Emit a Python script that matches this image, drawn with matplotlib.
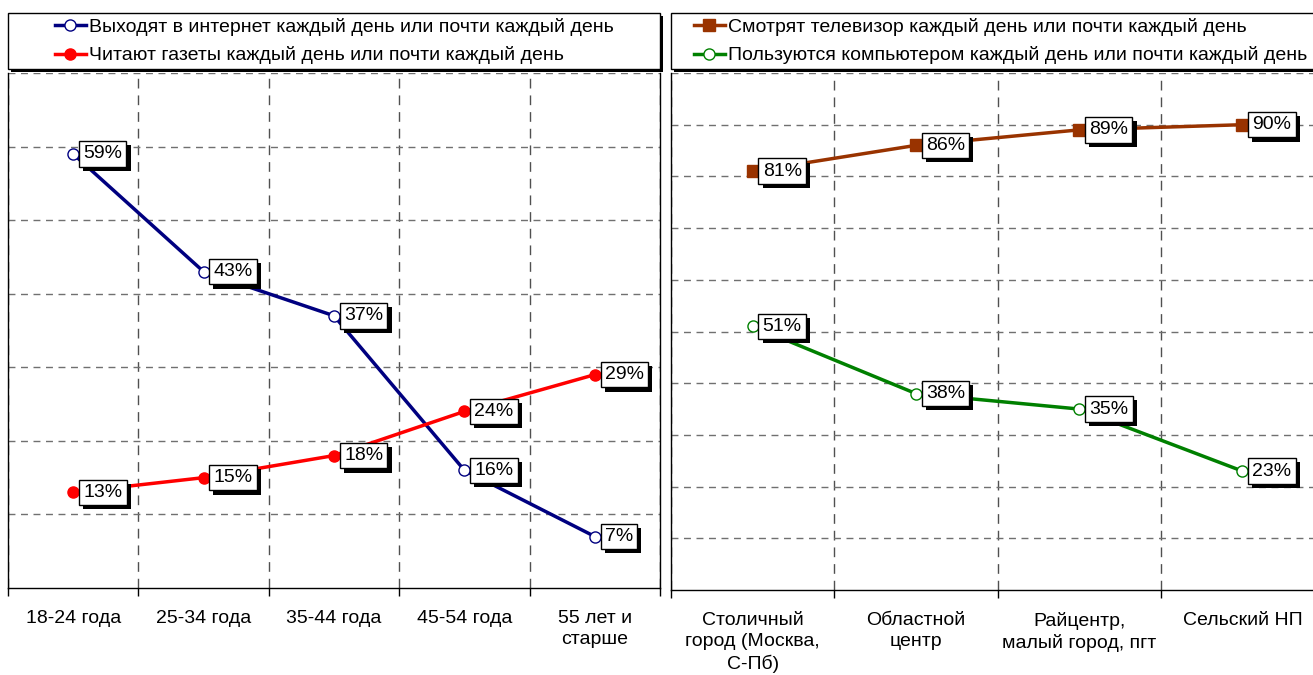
import matplotlib
matplotlib.use("Agg")
import matplotlib.pyplot as plt
import matplotlib.patheffects as pe
from matplotlib.patches import Rectangle

plt.rcParams['font.family'] = ['Liberation Sans', 'DejaVu Sans']

# age groups
age_groups = ["18-24 года", "25-34 года", "35-44 года", "45-54 года", "55 лет и\nстарше"]
internet = [59, 43, 37, 16, 7]
newspapers = [13, 15, 18, 24, 29]

# settlement types
places = ["Столичный\nгород (Москва,\nС-Пб)", "Областной\nцентр",
          "Райцентр,\nмалый город, пгт", "Сельский НП"]
tv = [81, 86, 89, 90]
computer = [51, 38, 35, 23]

W, H = 1313, 675
FS = 14
fig = plt.figure(figsize=(W / 100, H / 100), dpi=100)


def fx(px):
    return px / W


def fy(py):
    return 1 - py / H


def setup(ax, labels, ymax):
    n = len(labels)
    ax.set_xlim(-0.5, n - 0.5)
    ax.set_ylim(0, ymax)
    ax.set_xticks(range(n))
    ax.set_xticklabels(labels, fontsize=FS, linespacing=1.3)
    ax.tick_params(axis='x', which='major', length=0, pad=16)
    ax.set_xticks([i - 0.5 for i in range(n + 1)], minor=True)
    ax.tick_params(axis='x', which='minor', length=6, width=1, direction='out')
    ax.set_yticks(range(10, ymax + 1, 10))
    ax.tick_params(axis='y', length=0, labelleft=False)
    ax.grid(axis='y', which='major', color='#707070', linestyle=(0, (5, 4)), linewidth=1)
    ax.grid(axis='x', which='minor', color='#505050', linestyle=(0, (7, 5)), linewidth=1)
    ax.grid(axis='x', which='major', visible=False)
    for s in ax.spines.values():
        s.set_linewidth(1)
        s.set_color('black')
    ax.spines['top'].set_visible(False)
    ax.set_axisbelow(True)


def label(ax, x, y):
    t = ax.annotate(f"{y}%", (x, y), xytext=(10, 0), textcoords='offset pixels',
                    ha='left', va='center', fontsize=FS, zorder=6,
                    bbox=dict(boxstyle='square,pad=0.22', fc='white', ec='black', lw=1))
    t.get_bbox_patch().set_path_effects([
        pe.SimplePatchShadow(offset=(3, -3), shadow_rgbFace='black', alpha=1),
        pe.Normal()])


def legend_box(x0, x1, handles, texts):
    r = Rectangle((fx(x0), fy(69)), fx(x1) - fx(x0), fy(13) - fy(69),
                  transform=fig.transFigure, fc='white', ec='black', lw=1, zorder=1)
    r.set_path_effects([pe.SimplePatchShadow(offset=(2, -2), shadow_rgbFace='black', alpha=1),
                        pe.Normal()])
    fig.add_artist(r)
    fig.legend(handles, texts, loc='center',
               bbox_to_anchor=((fx(x0) + fx(x1)) / 2, (fy(69) + fy(13)) / 2),
               frameon=False, fontsize=FS, handlelength=1.6, handletextpad=0.15,
               labelspacing=0.55, borderpad=0)


# left panel: by age
ax1 = fig.add_axes([fx(8), fy(588), fx(660) - fx(8), fy(73) - fy(588)])
setup(ax1, age_groups, 70)
l1, = ax1.plot(range(5), internet, color='#000080', lw=2.5, marker='o', ms=8,
               mfc='white', mec='#000080', mew=1, zorder=4)
l2, = ax1.plot(range(5), newspapers, color='#FF0000', lw=2.5, marker='o', ms=8,
               mfc='#FF0000', mec='#FF0000', zorder=4)
for i in range(5):
    label(ax1, i, internet[i])
    label(ax1, i, newspapers[i])
legend_box(8, 660, [l1, l2],
           ["Выходят в интернет каждый день или почти каждый день",
            "Читают газеты каждый день или почти каждый день"])

# right panel: by settlement type
ax2 = fig.add_axes([fx(671), fy(590), fx(1324) - fx(671), fy(73) - fy(590)])
setup(ax2, places, 100)
l3, = ax2.plot(range(4), tv, color='#993300', lw=2.5, marker='s', ms=8,
               mfc='#993300', mec='#993300', zorder=4)
l4, = ax2.plot(range(4), computer, color='#008000', lw=2.5, marker='o', ms=8,
               mfc='white', mec='#008000', mew=1, zorder=4)
for i in range(4):
    label(ax2, i, tv[i])
    label(ax2, i, computer[i])
legend_box(671, 1330, [l3, l4],
           ["Смотрят телевизор каждый день или почти каждый день",
            "Пользуются компьютером каждый день или почти каждый день"])

fig.savefig("out.png", dpi=100)
